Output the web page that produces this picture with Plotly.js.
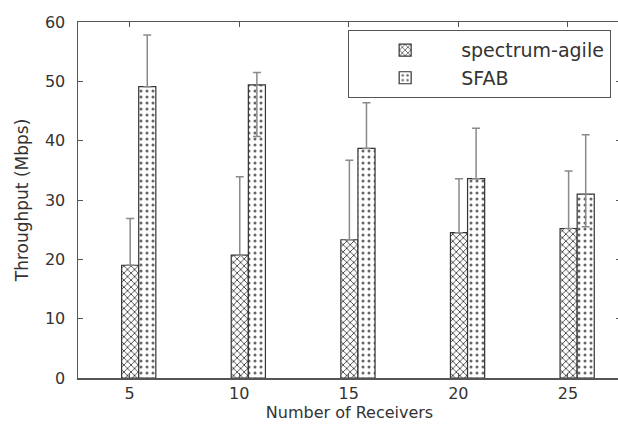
<!DOCTYPE html>
<html>
<head>
<meta charset="utf-8">
<script src="https://cdn.plot.ly/plotly-3.0.1.min.js"></script>
<style>
html,body{margin:0;padding:0;background:#fff;overflow:hidden;}
#chart{width:622px;height:426px;}
</style>
</head>
<body>
<div id="chart"></div>
<script>
const receivers = [5, 10, 15, 20, 25];
const agileThroughput = [19.0, 20.7, 23.3, 24.5, 25.2];
const agileErrPlus = [7.9, 13.2, 13.4, 9.1, 9.7];
const agileErrMinus = [0, 0, 0, 0, 0];
const sfabThroughput = [49.1, 49.4, 38.7, 33.6, 31.0];
const sfabErrPlus = [8.7, 2.1, 7.7, 8.5, 10.0];
const sfabErrMinus = [0, 8.7, 0, 0, 5.5];
const seriesNames = ['spectrum-agile', 'SFAB'];

const fontFam = 'DejaVu Sans, sans-serif';
const errStyle = (plus, minus) => ({
  type: 'data', symmetric: false, array: plus, arrayminus: minus,
  color: '#8a8a8a', thickness: 1.5, width: 4
});

const traces = [
  {
    type: 'bar', name: seriesNames[0], x: receivers, y: agileThroughput,
    width: 0.78, offset: -0.36,
    marker: {color: '#ffffff', line: {color: '#333333', width: 1.2},
      pattern: {shape: 'x', fgcolor: '#222222', bgcolor: '#ffffff', size: 5, solidity: 0.28}},
    error_y: errStyle(agileErrPlus, agileErrMinus)
  },
  {
    type: 'bar', name: seriesNames[1], x: receivers, y: sfabThroughput,
    width: 0.78, offset: 0.42,
    marker: {color: '#ffffff', line: {color: '#333333', width: 1.2},
      pattern: {shape: '.', fgcolor: '#666666', bgcolor: '#ffffff', size: 6, solidity: 0.2}},
    error_y: errStyle(sfabErrPlus, sfabErrMinus)
  }
];

const layout = {
  width: 622, height: 426,
  margin: {l: 78, r: 1, t: 22, b: 48},
  paper_bgcolor: '#ffffff', plot_bgcolor: '#ffffff',
  font: {family: fontFam, size: 16, color: '#333333'},
  barmode: 'overlay',
  showlegend: true,
  legend: {
    x: 0.9815, y: 0.9775, xanchor: 'right', yanchor: 'top',
    bordercolor: '#555555', borderwidth: 1.2, bgcolor: '#ffffff',
    font: {family: fontFam, size: 19, color: '#333333'},
    tracegroupgap: 0, itemwidth: 102
  },
  xaxis: {
    range: [2.65, 27.42], tickvals: receivers, ticktext: receivers.map(String),
    ticks: 'inside', ticklen: 5, tickcolor: '#555555', mirror: 'ticks',
    showline: true, linecolor: '#555555', linewidth: 1.5,
    showgrid: false, zeroline: false,
    tickfont: {family: fontFam, size: 16, color: '#333333'},
    title: {text: 'Number of Receivers', font: {family: fontFam, size: 16, color: '#333333'}, standoff: 4}
  },
  yaxis: {
    range: [0, 60], dtick: 10,
    ticks: 'inside', ticklen: 5, tickcolor: '#555555', mirror: 'ticks',
    showline: true, linecolor: '#555555', linewidth: 1.5,
    showgrid: false, zeroline: false, ticklabelstandoff: 8,
    tickfont: {family: fontFam, size: 16, color: '#333333'},
    title: {text: 'Throughput (Mbps)', font: {family: fontFam, size: 17, color: '#333333'}, standoff: 12}
  }
};

Plotly.newPlot('chart', traces, layout, {displayModeBar: false, staticPlot: true});
</script>
</body>
</html>
